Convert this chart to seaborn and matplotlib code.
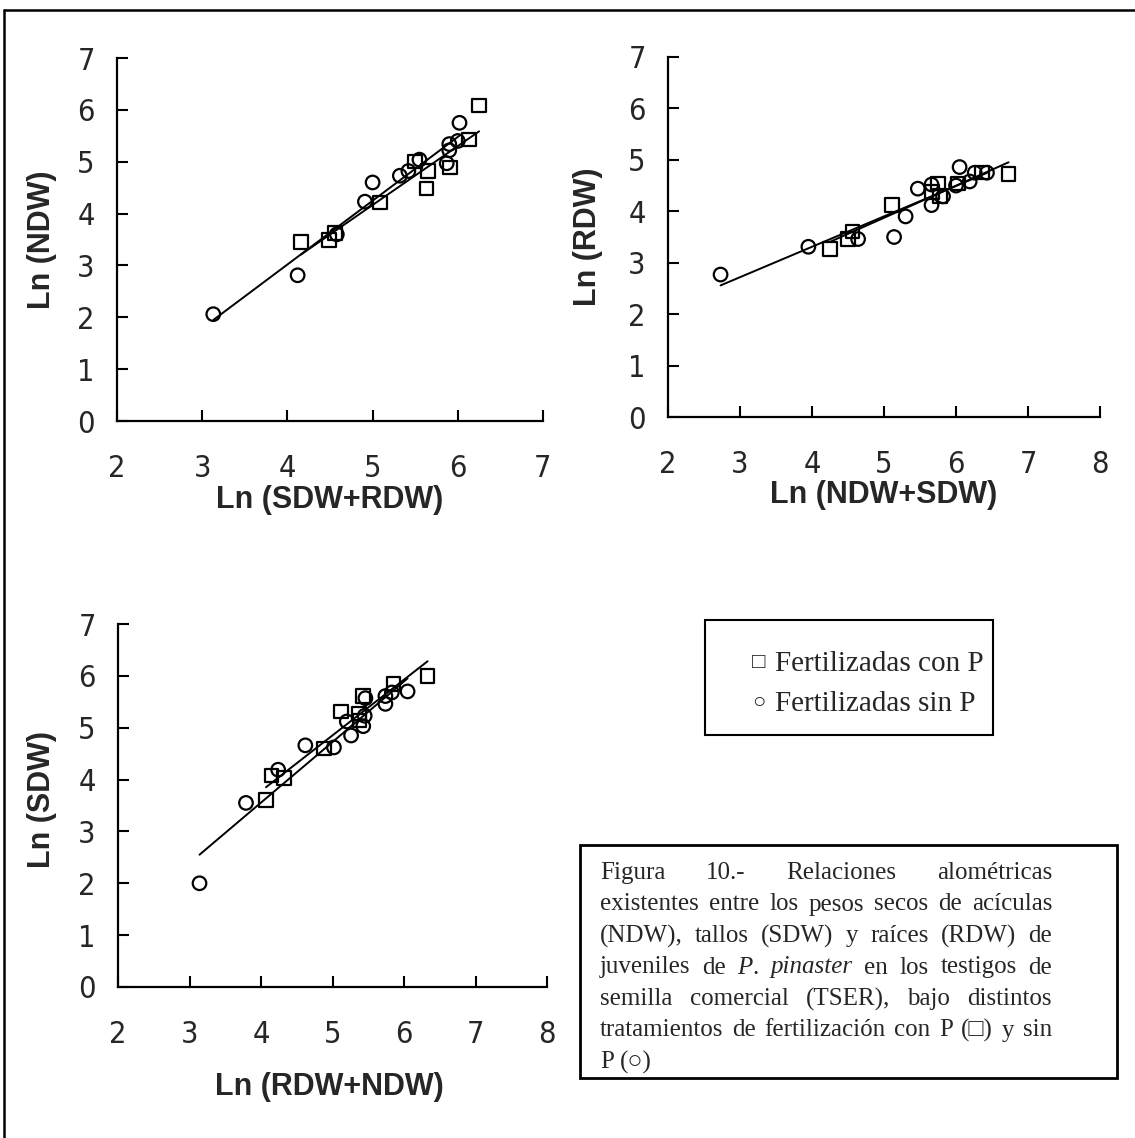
import matplotlib
matplotlib.use("Agg")
import matplotlib.pyplot as plt
import seaborn as sns
from matplotlib.lines import Line2D
from matplotlib.patches import Rectangle

# Ln(NDW) vs Ln(SDW+RDW)
ndw_sq_x = [4.16, 4.49, 4.56, 5.09, 5.50, 5.63, 5.65, 5.91, 6.13, 6.25]
ndw_sq_y = [3.45, 3.49, 3.63, 4.21, 5.00, 4.48, 4.82, 4.89, 5.43, 6.08]
ndw_ci_x = [3.13, 4.12, 4.58, 4.91, 5.00, 5.32, 5.42, 5.55, 5.87, 5.90, 5.90, 6.00, 6.02]
ndw_ci_y = [2.06, 2.81, 3.60, 4.23, 4.60, 4.73, 4.82, 5.04, 4.97, 5.34, 5.22, 5.40, 5.75]

# Ln(RDW) vs Ln(NDW+SDW)
rdw_sq_x = [4.25, 4.50, 4.56, 5.11, 5.67, 5.75, 5.78, 6.03, 6.36, 6.73]
rdw_sq_y = [3.27, 3.46, 3.61, 4.12, 4.37, 4.54, 4.30, 4.54, 4.75, 4.73]
rdw_ci_x = [2.73, 3.95, 4.64, 5.14, 5.30, 5.47, 5.66, 5.66, 5.82, 6.00, 6.05, 6.19, 6.26, 6.43]
rdw_ci_y = [2.77, 3.31, 3.46, 3.50, 3.90, 4.44, 4.12, 4.52, 4.29, 4.50, 4.86, 4.58, 4.75, 4.75]

# Ln(SDW) vs Ln(RDW+NDW)
sdw_sq_x = [4.07, 4.15, 4.32, 4.88, 5.12, 5.37, 5.38, 5.43, 5.85, 6.33]
sdw_sq_y = [3.61, 4.08, 4.03, 4.60, 5.31, 5.27, 5.14, 5.61, 5.84, 6.00]
sdw_ci_x = [3.14, 3.79, 4.24, 4.62, 5.02, 5.20, 5.26, 5.43, 5.45, 5.46, 5.74, 5.74, 5.83, 6.05]
sdw_ci_y = [2.00, 3.55, 4.19, 4.66, 4.62, 5.12, 4.85, 5.03, 5.23, 5.57, 5.46, 5.61, 5.68, 5.70]

legend_symbols = ["□", "○"]
legend_labels = ["Fertilizadas con P", "Fertilizadas sin P"]

caption = [
    "Figura 10.- Relaciones alométricas",
    "existentes entre los pesos secos de acículas",
    "(NDW), tallos (SDW) y raíces (RDW) de",
    "juveniles de _P_. _pinaster_ en los testigos de",
    "semilla comercial (TSER), bajo distintos",
    "tratamientos de fertilización con P (□) y sin",
    "P (○)",
]

sns.set_style("ticks")
plt.rcParams['font.family'] = ['Liberation Sans', 'DejaVu Sans']

W, H = 1135, 1138
fig = plt.figure(figsize=(W / 100, H / 100), dpi=100)


def fx(x):
    return x / W


def fy(y):
    return 1 - y / H


# panels: (left px, right px, y0 px, y7 px, xmax, data..., labels, label positions)
panels = [
    (117, 543, 421, 58, 7, ndw_sq_x, ndw_sq_y, ndw_ci_x, ndw_ci_y,
     "Ln (NDW)", "Ln (SDW+RDW)", (-0.176, 0.50), (0.50, -0.218)),
    (668, 1100, 417, 57, 8, rdw_sq_x, rdw_sq_y, rdw_ci_x, rdw_ci_y,
     "Ln (RDW)", "Ln (NDW+SDW)", (-0.186, 0.50), (0.50, -0.216)),
    (118, 547, 987, 624, 8, sdw_sq_x, sdw_sq_y, sdw_ci_x, sdw_ci_y,
     "Ln (SDW)", "Ln (RDW+NDW)", (-0.178, 0.516), (0.493, -0.275)),
]

lab_font = dict(family=['Liberation Sans', 'DejaVu Sans'], size=22, weight='bold')

for (l, r, b, t, xmax, sx, sy, cx, cy, ylab, xlab, ypos, xpos) in panels:
    ax = fig.add_axes([fx(l), fy(b), fx(r) - fx(l), fy(t) - fy(b)])
    sns.scatterplot(x=sx, y=sy, marker='s', s=95, facecolor='none',
                    edgecolor='black', linewidth=1.6, ax=ax, zorder=3)
    sns.scatterplot(x=cx, y=cy, marker='o', s=95, facecolor='none',
                    edgecolor='black', linewidth=1.6, ax=ax, zorder=3)
    sns.regplot(x=sx, y=sy, scatter=False, ci=None, truncate=True, ax=ax,
                line_kws=dict(color='black', lw=1.4))
    sns.regplot(x=cx, y=cy, scatter=False, ci=None, truncate=True, ax=ax,
                line_kws=dict(color='black', lw=1.4))
    ax.set_xlim(2, xmax)
    ax.set_ylim(0, 7)
    ax.set_xticks(range(2, xmax + 1))
    ax.set_yticks(range(0, 8))
    sns.despine(ax=ax)
    for s in ['left', 'bottom']:
        ax.spines[s].set_linewidth(1.6)
        ax.spines[s].set_color('black')
    ax.tick_params(axis='both', direction='in', length=8, width=1.5, color='black')
    ax.tick_params(axis='x', pad=24)
    ax.tick_params(axis='y', pad=16)
    for lab in ax.get_xticklabels() + ax.get_yticklabels():
        lab.set_fontfamily(['DejaVu Sans'])
        lab.set_fontstretch('condensed')
        lab.set_fontweight('light')
        lab.set_fontsize(22)
    ax.set_ylabel(ylab, **lab_font)
    ax.set_xlabel(xlab, **lab_font)
    ax.yaxis.set_label_coords(*ypos)
    ax.xaxis.set_label_coords(*xpos)
    ax.xaxis.label.set_va('center')
    ax.yaxis.label.set_va('center')

# outer frame (top and left edges)
fig.add_artist(Line2D([fx(4), fx(W)], [fy(10), fy(10)], color='black', lw=1.8))
fig.add_artist(Line2D([fx(4), fx(4)], [fy(10), fy(H)], color='black', lw=1.8))

# legend box
fig.add_artist(Rectangle((fx(705), fy(735)), fx(993) - fx(705), fy(620) - fy(735),
                         fill=False, edgecolor='black', lw=1.5))
serif = ['Liberation Serif', 'DejaVu Serif']
for i, (sym, txt) in enumerate(zip(legend_symbols, legend_labels)):
    fig.text(fx(752), fy(664 + 40 * i), sym, family=serif, size=16, va='center')
    fig.text(fx(775), fy(664 + 40 * i), txt, family=serif, size=21, va='center')

# caption box
fig.add_artist(Rectangle((fx(580), fy(1078)), fx(1117) - fx(580), fy(845) - fy(1078),
                         fill=False, edgecolor='black', lw=2.0))

renderer = fig.canvas.get_renderer()
x0, x1 = 600, 1052
line_h = 31.5
helpers = []
for i, line in enumerate(caption):
    yc = 873 + line_h * i
    words = []
    for w in line.split(' '):
        segs = w.split('_')
        arts = []
        for k, sg in enumerate(segs):
            if sg == '':
                continue
            style = 'italic' if k % 2 == 1 else 'normal'
            arts.append(fig.text(0, 0, sg, family=serif, size=18, style=style,
                                 va='center'))
        words.append(arts)
    widths = [sum(a.get_window_extent(renderer).width for a in arts) for arts in words]
    h1 = fig.text(0, 0, 'a a', family=serif, size=18)
    h2 = fig.text(0, 0, 'aa', family=serif, size=18)
    helpers += [h1, h2]
    space = h1.get_window_extent(renderer).width - h2.get_window_extent(renderer).width
    if i < len(caption) - 1 and len(words) > 1:
        gap = (x1 - x0 - sum(widths)) / (len(words) - 1)
    else:
        gap = space
    xc = x0
    for arts, wd in zip(words, widths):
        xx = xc
        for a in arts:
            a.set_position((fx(xx), fy(yc)))
            xx += a.get_window_extent(renderer).width
        xc += wd + gap
for h in helpers:
    h.remove()

fig.savefig("out.png", dpi=100)
